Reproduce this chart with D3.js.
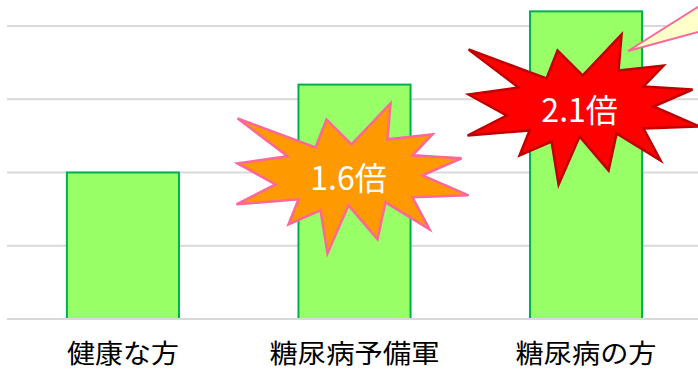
<!DOCTYPE html>
<html>
<head>
<meta charset="utf-8">
<script src="https://cdn.jsdelivr.net/npm/d3@7"></script>
<style>
  html, body { margin: 0; padding: 0; background: #fff; overflow: hidden; }
  svg { display: block; }
</style>
</head>
<body>
<svg id="chart" width="698" height="370"></svg>
<script>
// data
var categories = ["健康な方", "糖尿病予備軍", "糖尿病の方"];
var values = [1.0, 1.6, 2.1];
var yTicks = [0, 0.5, 1, 1.5, 2];
var burstLabels = ["1.6倍", "2.1倍"];
var burstCats = ["糖尿病予備軍", "糖尿病の方"];
var burstLevels = [0.96, 1.43];   // where the burst centre sits on the y scale

// explosion outline, relative to its centre (same shape used twice)
var burstShape = [
    [-115, -60], [-37, -31], [-26, -59], [-1, -34], [38, -75], [35, -39],
    [80, -44], [60, -23], [109, -20], [70, -3], [116, 17], [60, 19],
    [77, 51], [33, 24], [25, 61], [-4, 27], [-25, 75], [-32, 32],
    [-64, 46], [-54, 21], [-116, 26], [-77, 6], [-115, -15], [-65, -22]
];

var svg = d3.select("#chart");

var x = d3.scaleBand()
    .domain(categories)
    .range([9, 700])
    .paddingInner(0.516)
    .paddingOuter(0.25);

var y = d3.scaleLinear()
    .domain([0, 2])
    .range([319, 26]);

// grid lines
svg.append("g")
    .selectAll("line")
    .data(yTicks)
    .enter()
    .append("line")
    .attr("x1", 7)
    .attr("x2", 698)
    .attr("y1", function (d) { return y(d); })
    .attr("y2", function (d) { return y(d); })
    .style("stroke", "#d9d9d9")
    .style("stroke-width", 2);

// bars
svg.append("g")
    .selectAll("rect")
    .data(values)
    .enter()
    .append("rect")
    .attr("x", function (d, i) { return x(categories[i]); })
    .attr("y", function (d) { return y(d); })
    .attr("width", x.bandwidth())
    .attr("height", function (d) { return y(0) - y(d); })
    .style("fill", "#99ff66")
    .style("stroke", "#00b050")
    .style("stroke-width", 2);

// baseline over the bars
svg.append("line")
    .attr("x1", 7)
    .attr("x2", 698)
    .attr("y1", y(0))
    .attr("y2", y(0))
    .style("stroke", "#d9d9d9")
    .style("stroke-width", 2);

// category labels (glyphs a bit wider than tall, like the original)
svg.append("g")
    .selectAll("text")
    .data(categories)
    .enter()
    .append("text")
    .attr("x", function (d) { return x(d) + x.bandwidth() / 2; })
    .attr("y", 363)
    .attr("text-anchor", "middle")
    .attr("textLength", function (d) { return d.length * 29 - 4; })
    .attr("lengthAdjust", "spacingAndGlyphs")
    .style("font-family", "'Noto Sans CJK JP', sans-serif")
    .style("font-size", "26px")
    .style("fill", "#000")
    .text(function (d) { return d; });

// explosions
var burstFill = ["#ff9900", "#ff0000"];
var burstStroke = ["#ff6699", "#c00000"];
var line = d3.line();

burstLabels.forEach(function (label, i) {
    var cx = x(burstCats[i]) + x.bandwidth() / 2 - 2 - i * 0.5;
    var cy = y(burstLevels[i]);
    var g = svg.append("g").attr("transform", "translate(" + cx + "," + cy + ")");
    g.append("path")
        .attr("d", line(burstShape) + "Z")
        .style("fill", burstFill[i])
        .style("stroke", burstStroke[i])
        .style("stroke-width", 2.5)
        .style("stroke-linejoin", "miter");
    g.append("text")
        .attr("x", -4)
        .attr("y", 12)
        .attr("text-anchor", "middle")
        .style("font-family", "'Noto Sans CJK JP', sans-serif")
        .style("font-size", "32px")
        .style("fill", "#fff")
        .text(label);
});

// speech callout tail coming in from the right
svg.append("path")
    .attr("d", line([[628, 51], [720, -7], [720, 26]]) + "Z")
    .style("fill", "#ffffcc")
    .style("stroke", "#ff6699")
    .style("stroke-width", 2);
</script>
</body>
</html>
